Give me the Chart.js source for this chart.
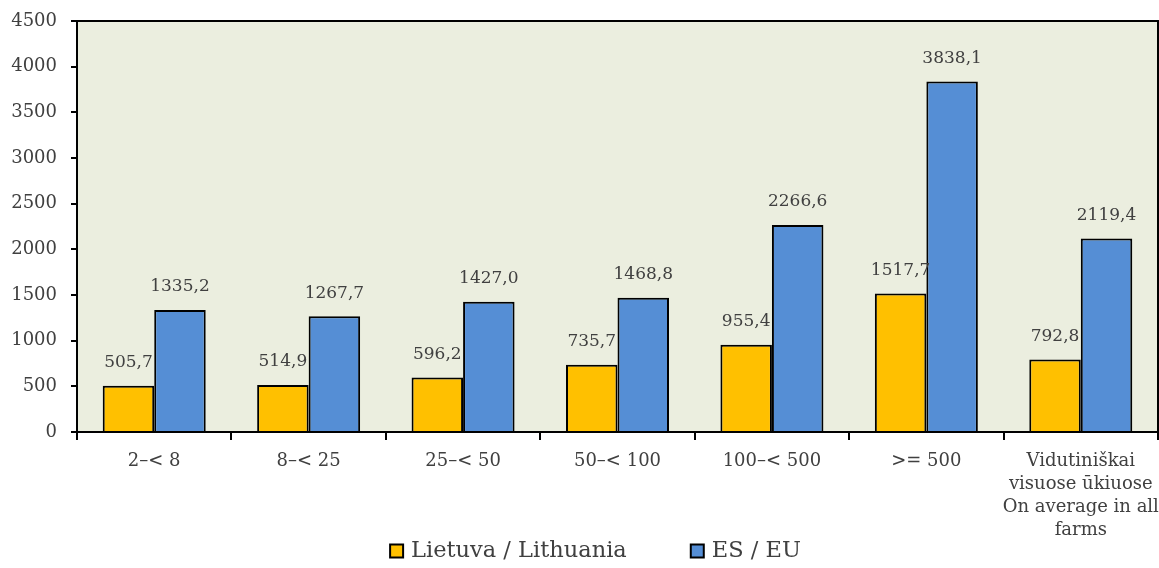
<!DOCTYPE html>
<html><head><meta charset="utf-8">
<script src="https://cdn.jsdelivr.net/npm/chart.js@4/dist/chart.umd.min.js"></script>
<style>html,body{margin:0;padding:0;background:#fff}#wrap{width:1159px;height:568px}</style>
</head><body><div id="wrap"><canvas id="c" width="1159" height="568"></canvas></div>
<script>
const categories = [["2–< 8"],["8–< 25"],["25–< 50"],["50–< 100"],["100–< 500"],[">= 500"],["Vidutiniškai","visuose ūkiuose","On average in all","farms"]];
const lithuania = [505.7, 514.9, 596.2, 735.7, 955.4, 1517.7, 792.8];
const eu = [1335.2, 1267.7, 1427.0, 1468.8, 2266.6, 3838.1, 2119.4];
const seriesNames = ["Lietuva / Lithuania", "ES / EU"];
const yTicks = [0,500,1000,1500,2000,2500,3000,3500,4000,4500];

const FONT = "'DejaVu Serif', serif";
const TXT = '#404040';

const plotBg = {
  id:'plotBg',
  beforeDraw(ch){const a=ch.chartArea,c=ch.ctx;c.save();c.fillStyle='#EBEEDF';c.fillRect(a.left,a.top,a.right-a.left,a.bottom-a.top);c.restore();},
  afterDatasetsDraw(ch){const a=ch.chartArea,c=ch.ctx;c.save();c.strokeStyle='#000';c.lineWidth=2;c.beginPath();c.moveTo(a.left,a.top);c.lineTo(a.right,a.top);c.lineTo(a.right,a.bottom);c.stroke();
    c.font='17px '+FONT;c.fillStyle=TXT;c.textAlign='center';c.textBaseline='middle';
    ch.data.datasets.forEach((ds,i)=>{ch.getDatasetMeta(i).data.forEach((bar,j)=>{c.fillText(ds.data[j].toFixed(1).replace('.',','),bar.x,bar.y-23);});});
    c.restore();},
  afterDraw(ch){
    const c=ch.ctx;c.save();c.font='22.5px '+FONT;c.textBaseline='middle';c.textAlign='left';
    const box=13,gap=8,spacing=64;
    const items=ch.data.datasets.map(d=>({t:d.label,col:d.backgroundColor,w:c.measureText(d.label).width}));
    const total=items.reduce((s,it)=>s+box+gap+it.w,0)+spacing*(items.length-1);
    let x=ch.width/2+16-total/2;const y=ch.height-17;
    items.forEach(it=>{c.fillStyle=it.col;c.fillRect(x,y-6.5,box,box);c.strokeStyle='#000';c.lineWidth=2;c.strokeRect(x,y-6.5,box,box);
      c.fillStyle=TXT;c.fillText(it.t,x+box+gap,y);x+=box+gap+it.w+spacing;});
    c.restore();}
};

new Chart(document.getElementById('c'),{
  type:'bar',
  data:{labels:categories,datasets:[
    {label:seriesNames[0],data:lithuania,backgroundColor:'#FFC000',borderColor:'#000',borderWidth:2,categoryPercentage:0.667,barPercentage:1},
    {label:seriesNames[1],data:eu,backgroundColor:'#558ED5',borderColor:'#000',borderWidth:2,categoryPercentage:0.667,barPercentage:1}
  ]},
  options:{
    responsive:false,animation:false,
    layout:{padding:{top:21,right:1,left:0,bottom:28}},
    plugins:{legend:{display:false},tooltip:{enabled:false}},
    scales:{
      x:{grid:{display:true,drawOnChartArea:false,drawTicks:true,tickLength:8,color:'#000',lineWidth:2,offset:true},
         border:{display:true,color:'#000',width:2},
         ticks:{font:{family:FONT,size:18,lineHeight:1.28},color:TXT,maxRotation:0,autoSkip:false,padding:10},
         afterFit(s){s.height=108;s.paddingRight=0;s.paddingLeft=0;}},
      y:{min:0,max:4500,afterBuildTicks(s){s.ticks=yTicks.map(v=>({value:v}));},
         grid:{display:true,drawOnChartArea:false,drawTicks:true,tickLength:6,color:'#000',lineWidth:2},
         border:{display:true,color:'#000',width:2},
         ticks:{font:{family:FONT,size:18},color:TXT,padding:14,callback:v=>String(v)},
         afterFit(s){s.width=77;s.paddingTop=0;s.paddingBottom=0;}}
    }
  },
  plugins:[plotBg]
});
</script></body></html>
